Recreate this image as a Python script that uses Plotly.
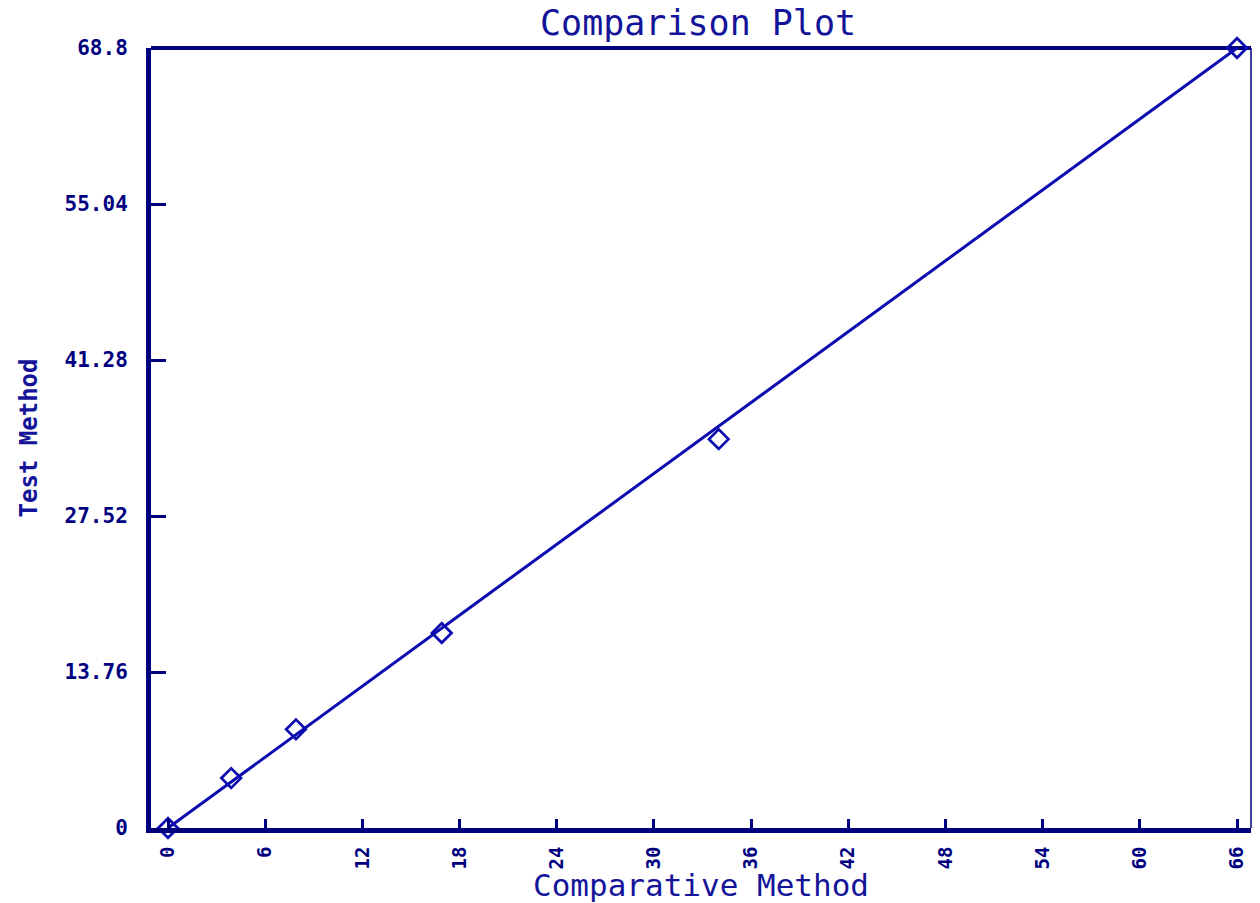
import plotly.graph_objects as go

# Paired measurements: comparative method (x) vs test method (y)
comparative = [0.0, 3.9, 7.9, 16.9, 34.0, 66.0]
test_method = [0.0, 4.4, 8.7, 17.2, 34.3, 68.8]

# Fitted line endpoints
fit_x = [0.0, 66.0]
fit_y = [0.0, 68.8]

x_ticks = [0, 6, 12, 18, 24, 30, 36, 42, 48, 54, 60, 66]
y_ticks = [0, 13.76, 27.52, 41.28, 55.04, 68.8]
y_tick_text = ["0", "13.76", "27.52", "41.28", "55.04", "68.8"]

NAVY = "#00007f"
BLUE = "#0b0bb0"
FONT = "DejaVu Sans Mono"

fig = go.Figure()

fig.add_trace(go.Scatter(
    x=fit_x, y=fit_y, mode="lines",
    line=dict(color=BLUE, width=3),
    cliponaxis=False, hoverinfo="skip", showlegend=False,
))

fig.add_trace(go.Scatter(
    x=comparative, y=test_method, mode="markers",
    marker=dict(symbol="diamond-open", size=15, color=BLUE,
                line=dict(color=BLUE, width=2.8)),
    cliponaxis=False, showlegend=False,
))

fig.update_layout(
    width=1260, height=903,
    margin=dict(l=151, r=9, t=48, b=75),
    paper_bgcolor="white", plot_bgcolor="white",
    title=dict(
        text="Comparison Plot",
        x=0.554, xanchor="center", y=0.975, yanchor="middle",
        font=dict(family=FONT, size=35, color="#14149a"),
    ),
    xaxis=dict(
        range=[-1.05, 66.86], automargin=False,
        tickmode="array", tickvals=x_ticks,
        ticktext=[str(v) for v in x_ticks],
        tickangle=-90,
        ticks="inside", ticklen=9, tickwidth=3, tickcolor=NAVY,
        showline=True, linewidth=5, linecolor=NAVY, mirror=False,
        showgrid=False, zeroline=False,
        tickfont=dict(family=FONT, size=19, color=NAVY, weight="bold"),
        ticklabelstandoff=6,
        title=dict(text="Comparative Method", standoff=8,
                   font=dict(family=FONT, size=31, color="#14149a")),
    ),
    yaxis=dict(
        range=[0, 68.8], automargin=False,
        tickmode="array", tickvals=y_ticks, ticktext=y_tick_text,
        ticks="inside", ticklen=15, tickwidth=3, tickcolor=NAVY,
        showline=True, linewidth=5, linecolor=NAVY, mirror=False,
        showgrid=False, zeroline=False,
        tickfont=dict(family=FONT, size=21, color=NAVY, weight="bold"),
        ticklabelstandoff=14,
        title=dict(text="Test Method", standoff=22,
                   font=dict(family=FONT, size=24, color="#14149a", weight="bold")),
    ),
    shapes=[
        # thick top frame line
        dict(type="line", xref="paper", yref="paper", x0=0, x1=1, y0=1, y1=1,
             line=dict(color=NAVY, width=4), layer="below"),
        # thin right frame line
        dict(type="line", xref="paper", yref="paper", x0=1, x1=1, y0=0, y1=1,
             line=dict(color=NAVY, width=1.5), layer="below"),
    ],
)

fig.write_html("out.html")
